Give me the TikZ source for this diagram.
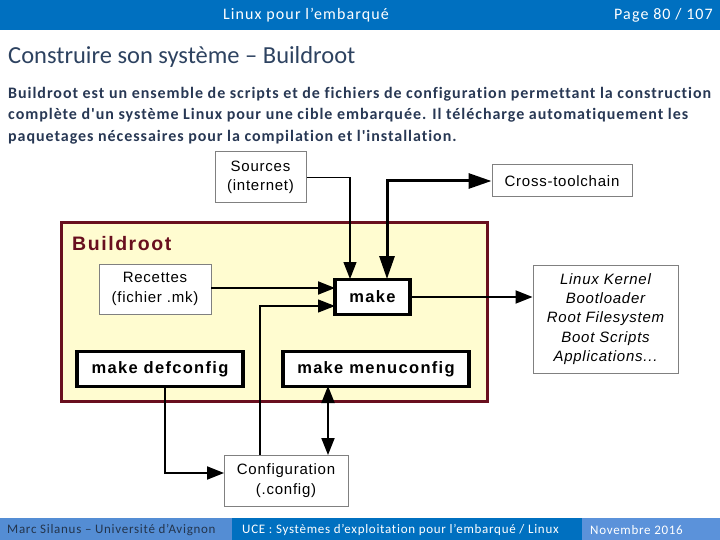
\documentclass[tikz,border=0pt]{standalone}
\usepackage{fontspec}
\setmainfont{Carlito}
\newfontfamily\calsp[LetterSpace=7,Ligatures=NoCommon]{Carlito}
\newfontfamily\calbody[LetterSpace=6,Ligatures=NoCommon]{Carlito}
\newfontfamily\calfoot[LetterSpace=5.5,Ligatures=NoCommon]{Carlito}
\newfontfamily\arialf[LetterSpace=5]{Liberation Sans}
\newfontfamily\arialB[LetterSpace=8]{Liberation Sans}
\usetikzlibrary{arrows.meta}
\definecolor{hdr}{RGB}{0,112,192}
\definecolor{ftone}{RGB}{84,141,212}
\definecolor{ftthree}{RGB}{91,146,218}
\definecolor{ttl}{RGB}{45,66,96}
\definecolor{bodyc}{RGB}{40,56,84}
\definecolor{brfill}{RGB}{255,252,208}
\definecolor{brdraw}{RGB}{105,15,30}
\begin{document}
\begin{tikzpicture}[x=1pt,y=-1pt,
  thinbox/.style={draw=gray, fill=white, line width=1pt, font=\arialf\fontsize{15}{19.5}\selectfont, align=center, inner sep=0pt},
  thickbox/.style={draw=black, fill=white, line width=3.2pt, font=\arialB\bfseries\fontsize{16.5}{18}\selectfont, inner sep=0pt},
  tip/.tip={Triangle[length=17pt,width=13pt]},
  bigtip/.tip={Triangle[length=23pt,width=15pt]},
  thinarrow/.style={line width=1.3pt, -tip},
  medarrow/.style={line width=2pt, -tip},
  thickarrow/.style={line width=3pt, bigtip-bigtip},
  dblarrow/.style={line width=2pt, tip-tip},
  bodyline/.style={text=bodyc, font=\calbody\bfseries\fontsize{16}{18}\selectfont, anchor=base west, inner sep=0pt},
  foot/.style={font=\calfoot\fontsize{13}{15}\selectfont, anchor=west, inner sep=0pt}
]
\useasboundingbox (0,0) rectangle (720,540);
% header
\fill[hdr] (0,0) rectangle (720,30);
\node[text=white, font=\calsp\fontsize{16}{18}\selectfont] (h1) at (306,15) {Linux pour l’embarqué};
\node[text=white, font=\calsp\fontsize{16}{18}\selectfont, anchor=east, inner sep=0pt] (h2) at (713,15) {Page 80 / 107};
% title and body
\node[text=ttl, font=\fontsize{24.5}{28}\selectfont, anchor=base west, inner sep=0pt] (title) at (8,64) {Construire son système – Buildroot};
\node[bodyline] (body1) at (8,98.5) {Buildroot est un ensemble de scripts et de fichiers de configuration permettant la construction};
\node[bodyline] (body2) at (8,120) {complète d'un système Linux pour une cible embarquée. Il télécharge automatiquement les};
\node[bodyline] (body3) at (8,141.5) {paquetages nécessaires pour la compilation et l'installation.};
% Buildroot frame
\node[draw=brdraw, fill=brfill, line width=3pt, minimum width=426pt, minimum height=178pt, inner sep=0pt] (br) at (274,312) {};
\node[text=brdraw, font=\arialB\bfseries\fontsize{19.5}{22}\selectfont, anchor=west, inner sep=0pt] (brl) at (72,244) {Buildroot};
% boxes
\node[thinbox, minimum width=91pt, minimum height=51pt] (src) at (260.5,177.5) {Sources\\(internet)};
\node[thinbox, minimum width=140pt, minimum height=32pt] (tc) at (562,181) {Cross-toolchain};
\node[thinbox, minimum width=112pt, minimum height=50pt] (rec) at (155,289) {Recettes\\(fichier .mk)};
\node[thickbox, minimum width=75pt, minimum height=35pt] (make) at (372.5,297) {make};
\node[thickbox, minimum width=166pt, minimum height=35pt] (dc) at (160,369) {make defconfig};
\node[thickbox, minimum width=186pt, minimum height=35pt] (mc) at (376,369) {make menuconfig};
\node[thinbox, minimum width=145pt, minimum height=108pt, font=\arialf\itshape\fontsize{15}{19.3}\selectfont] (lk) at (605.5,319)
 {Linux Kernel\\Bootloader\\Root Filesystem\\Boot Scripts\\Applications...};
\node[thinbox, minimum width=124pt, minimum height=51pt] (cfg) at (286,480.5) {Configuration\\(.config)};
% connector points
\coordinate (mkA) at (350,279);
\coordinate (mkB) at (387,279);
\coordinate (mkR) at (335,288);
\coordinate (mkC) at (335,306);
\coordinate (cfT) at (260,455);
\coordinate (cfL) at (224,473);
\coordinate (dcB) at (165,386);
\coordinate (mcB) at (328,386);
\coordinate (cfT2) at (328,455);
\coordinate (recR) at (211,288);
% connectors
\draw[thinarrow] (src.east) -| (mkA);
\draw[thickarrow] (mkB) |- (tc.west);
\draw[medarrow] (recR) -- (mkR);
\draw[thinarrow] (cfT) |- (mkC);
\draw[medarrow] (make.east) -- (make.east -| lk.west);
\draw[medarrow] (dcB) |- (cfL);
\draw[dblarrow] (mcB) -- (cfT2);
% footer
\fill[ftone] (0,518) rectangle (232,540);
\fill[hdr] (232,518) rectangle (582,540);
\fill[ftthree] (582,518) rectangle (720,540);
\node[foot, text=ttl!80!black] (f1) at (7,530) {Marc Silanus – Université d’Avignon};
\node[foot, text=white] (f2) at (242,530) {UCE : Systèmes d’exploitation pour l’embarqué / Linux};
\node[foot, text=white] (f3) at (590,530) {Novembre 2016};
\end{tikzpicture}
\end{document}
